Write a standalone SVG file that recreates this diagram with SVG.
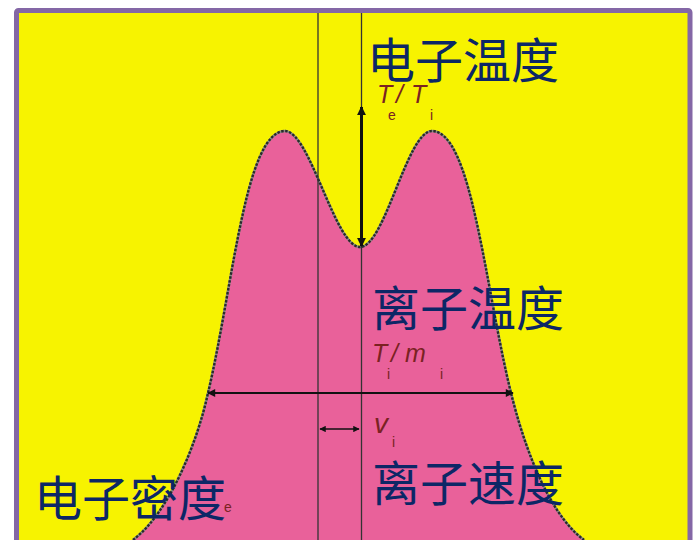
<svg xmlns="http://www.w3.org/2000/svg" width="694" height="540" viewBox="0 0 694 540">
  <defs>
    <style>
      .cjk { font-family: "Noto Sans CJK SC", "Noto Sans", sans-serif; font-size: 48px; fill: #0c2766; }
      .sym { font-family: "Liberation Sans", Arial, sans-serif; font-style: italic; font-size: 25px; fill: #7a2222; }
      .sub { font-style: normal; font-size: 14px; }
      .thin { stroke: #333; stroke-width: 1.3; fill: none; }
      .arrow { stroke: #111; fill: none; }
    </style>
    <marker id="ahv" viewBox="0 0 10 10" refX="9" refY="5" markerWidth="3" markerHeight="3" markerUnits="strokeWidth" orient="auto-start-reverse">
      <path d="M0,0 L10,5 L0,10 Z" fill="#111"/>
    </marker>
    <marker id="ah2" viewBox="0 0 10 10" refX="9" refY="5" markerWidth="4.5" markerHeight="4" markerUnits="strokeWidth" orient="auto-start-reverse">
      <path d="M0,0 L10,5 L0,10 Z" fill="#111"/>
    </marker>
  </defs>

  <rect x="0" y="0" width="694" height="540" fill="#ffffff"/>
  <rect x="16.5" y="10.5" width="673.5" height="540" rx="2" fill="#f7f300" stroke="#8467a6" stroke-width="5"/>

  <g id="curve">
    <path d="M133,540 C170,512 198,440 208,393 C233,288 245,131 285,131 C310,131 335,247 360,247 C385,247 407,131 432,131 C472,131 485,288 511,393 C522,438 546,512 584,540 L584,542 L133,542 Z" fill="#e9619a"/>
    <path d="M133,540 C170,512 198,440 208,393 C233,288 245,131 285,131 C310,131 335,247 360,247 C385,247 407,131 432,131 C472,131 485,288 511,393 C522,438 546,512 584,540" fill="none" stroke="#8a8a8a" stroke-width="2.4"/>
    <path d="M133,540 C170,512 198,440 208,393 C233,288 245,131 285,131 C310,131 335,247 360,247 C385,247 407,131 432,131 C472,131 485,288 511,393 C522,438 546,512 584,540" fill="none" stroke="#2a2a2a" stroke-width="2.4" stroke-dasharray="2.5 1.5"/>
  </g>

  <g id="connectors">
    <line class="thin" x1="318" y1="13" x2="318" y2="540"/>
    <line class="thin" x1="361.5" y1="13" x2="361.5" y2="540" stroke-width="1.5"/>
    <line class="arrow" x1="361.5" y1="246" x2="361.5" y2="107" stroke-width="3" marker-start="url(#ahv)" marker-end="url(#ahv)"/>
    <line class="arrow" x1="208" y1="393" x2="513" y2="393" stroke-width="2" marker-start="url(#ah2)" marker-end="url(#ah2)"/>
    <line class="arrow" x1="320" y1="429" x2="359" y2="429" stroke-width="1.6" marker-start="url(#ah2)" marker-end="url(#ah2)"/>
  </g>

  <g id="label-te-ti">
    <text class="sym" x="377" y="103">T<tspan class="sub" x="388" y="120">e</tspan><tspan x="396" y="103">/</tspan><tspan x="411" y="103">T</tspan><tspan class="sub" x="430" y="120">i</tspan></text>
  </g>
  <g id="label-ti-mi">
    <text class="sym" x="372" y="362">T<tspan class="sub" x="387" y="379">i</tspan><tspan x="391" y="362">/</tspan><tspan x="405" y="362">m</tspan><tspan class="sub" x="440" y="379">i</tspan></text>
  </g>
  <g id="label-vi">
    <text class="sym" x="374" y="433"><tspan font-size="28">v</tspan><tspan class="sub" x="392" y="447">i</tspan></text>
  </g>
  <g id="label-ne">
    <text class="sym" x="224" y="512"><tspan class="sub" font-size="11">e</tspan></text>
  </g>

  <g id="electron-temperature"><text class="cjk" x="367" y="78">电子温度</text></g>
  <g id="ion-temperature"><text class="cjk" x="372" y="326">离子温度</text></g>
  <g id="ion-velocity"><text class="cjk" x="372" y="501">离子速度</text></g>
  <g id="electron-density"><text class="cjk" x="34" y="516">电子密度</text></g>
</svg>
